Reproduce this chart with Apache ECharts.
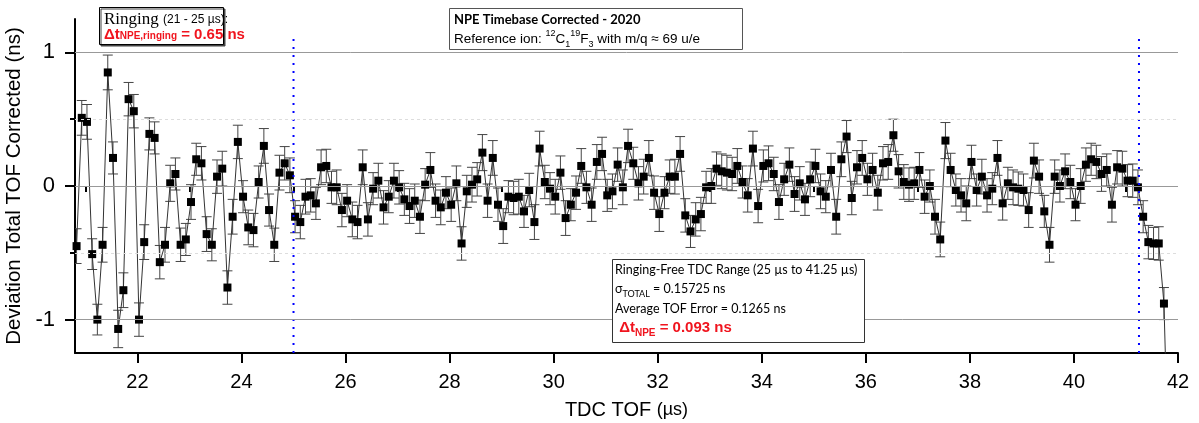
<!DOCTYPE html>
<html>
<head>
<meta charset="utf-8">
<script src="https://cdn.jsdelivr.net/npm/echarts@6/dist/echarts.min.js"></script>
<style>
html, body { margin:0; padding:0; background:#fff; }
#main { width:1199px; height:423px; }
</style>
</head>
<body>
<div id="main"></div>
<script>
// TDC TOF (µs)
var tof = [
    20.83,20.93,21.03,21.13,21.23,21.33,21.43,21.53,21.63,21.73,
    21.83,21.93,22.03,22.13,22.23,22.33,22.43,22.53,22.63,22.73,
    22.83,22.93,23.03,23.13,23.23,23.33,23.43,23.53,23.63,23.73,
    23.83,23.93,24.03,24.13,24.23,24.33,24.43,24.53,24.63,24.73,
    24.83,24.93,25.03,25.13,25.23,25.33,25.43,25.53,25.63,25.73,
    25.83,25.93,26.03,26.13,26.23,26.33,26.43,26.53,26.63,26.73,
    26.83,26.93,27.03,27.13,27.23,27.33,27.43,27.53,27.63,27.73,
    27.83,27.93,28.03,28.13,28.23,28.33,28.43,28.53,28.63,28.73,
    28.83,28.93,29.03,29.13,29.23,29.33,29.43,29.53,29.63,29.73,
    29.83,29.93,30.03,30.13,30.23,30.33,30.43,30.53,30.63,30.73,
    30.83,30.93,31.03,31.13,31.23,31.33,31.43,31.53,31.63,31.73,
    31.83,31.93,32.03,32.13,32.23,32.33,32.43,32.53,32.63,32.73,
    32.83,32.93,33.03,33.13,33.23,33.33,33.43,33.53,33.63,33.73,
    33.83,33.93,34.03,34.13,34.23,34.33,34.43,34.53,34.63,34.73,
    34.83,34.93,35.03,35.13,35.23,35.33,35.43,35.53,35.63,35.73,
    35.83,35.93,36.03,36.13,36.23,36.33,36.43,36.53,36.63,36.73,
    36.83,36.93,37.03,37.13,37.23,37.33,37.43,37.53,37.63,37.73,
    37.83,37.93,38.03,38.13,38.23,38.33,38.43,38.53,38.63,38.73,
    38.83,38.93,39.03,39.13,39.23,39.33,39.43,39.53,39.63,39.73,
    39.83,39.93,40.03,40.13,40.23,40.33,40.43,40.53,40.63,40.73,
    40.83,40.93,41.03,41.13,41.23,41.33,41.43,41.53,41.63,41.73,
    41.83
];
// Deviation Total TOF Corrected (ns)
var deviation = [
    -0.45,0.51,0.48,-0.51,-1.00,-0.44,0.85,0.21,-1.07,-0.78,
    0.65,0.56,-1.00,-0.42,0.39,0.36,-0.57,-0.44,0.02,0.09,
    -0.44,-0.40,-0.12,0.20,0.17,-0.36,-0.44,0.07,0.13,-0.76,
    -0.23,0.33,-0.08,-0.31,-0.33,0.03,0.30,-0.18,-0.44,0.10,
    0.17,0.08,-0.23,-0.27,-0.08,-0.07,-0.13,0.14,0.15,-0.01,
    -0.01,-0.18,-0.11,-0.25,-0.27,0.14,-0.25,-0.02,0.04,-0.16,
    -0.08,0.04,-0.01,-0.10,-0.15,-0.11,-0.23,0.01,0.12,-0.11,
    -0.16,-0.05,-0.14,0.02,-0.43,-0.04,0.01,0.05,0.25,-0.11,
    0.21,-0.14,-0.30,-0.08,-0.09,-0.08,-0.19,-0.03,-0.27,0.28,
    0.03,-0.02,-0.08,0.10,-0.24,-0.14,-0.05,0.15,-0.01,-0.14,
    0.18,0.24,-0.07,-0.04,0.16,-0.01,0.30,0.17,0.02,0.07,
    0.21,-0.05,-0.21,-0.05,0.07,0.07,0.24,-0.22,-0.34,-0.25,
    -0.21,-0.01,0.00,0.13,0.11,0.10,0.09,0.15,0.03,-0.07,
    0.28,-0.15,0.15,0.17,0.09,-0.12,0.05,0.16,-0.06,0.02,
    -0.10,0.05,0.15,-0.04,-0.08,0.12,-0.23,0.20,0.37,-0.09,
    0.14,0.21,0.05,0.12,-0.05,0.17,0.18,0.38,0.11,0.03,
    0.01,0.02,0.12,-0.08,0.00,-0.23,-0.40,0.34,0.12,-0.03,
    -0.07,-0.13,0.18,-0.03,0.07,-0.07,-0.02,0.21,-0.13,0.02,
    -0.01,-0.02,-0.03,-0.18,0.19,0.07,-0.19,-0.44,0.07,0.00,
    0.11,0.03,-0.14,0.00,0.16,0.20,0.18,0.09,0.12,-0.14,
    0.14,0.13,0.04,0.04,-0.01,-0.23,-0.42,-0.43,-0.43,-0.88,
    -2.30
];
// TOF error (ns)
var tofError = [
    0.13,0.13,0.13,0.115,0.115,0.13,0.13,0.12,0.14,0.13,
    0.125,0.125,0.125,0.13,0.12,0.12,0.125,0.13,0.135,0.12,
    0.125,0.12,0.13,0.12,0.125,0.13,0.12,0.125,0.13,0.125,
    0.13,0.125,0.12,0.13,0.125,0.12,0.13,0.12,0.125,0.13,
    0.125,0.13,0.12,0.125,0.13,0.125,0.12,0.13,0.125,0.12,
    0.13,0.125,0.12,0.13,0.125,0.13,0.125,0.12,0.13,0.125,
    0.12,0.13,0.125,0.12,0.13,0.125,0.125,0.12,0.13,0.125,
    0.13,0.12,0.125,0.13,0.125,0.12,0.13,0.125,0.135,0.125,
    0.13,0.125,0.13,0.12,0.125,0.13,0.12,0.125,0.13,0.13,
    0.125,0.12,0.13,0.125,0.13,0.12,0.125,0.13,0.12,0.125,
    0.13,0.125,0.12,0.13,0.125,0.13,0.125,0.12,0.125,0.13,
    0.13,0.125,0.13,0.12,0.125,0.13,0.13,0.125,0.12,0.125,
    0.125,0.12,0.13,0.125,0.13,0.13,0.125,0.13,0.12,0.125,
    0.13,0.125,0.12,0.13,0.125,0.13,0.12,0.125,0.13,0.125,
    0.12,0.13,0.125,0.13,0.12,0.125,0.13,0.13,0.12,0.125,
    0.125,0.13,0.12,0.125,0.13,0.125,0.13,0.12,0.125,0.13,
    0.125,0.12,0.13,0.125,0.12,0.13,0.13,0.135,0.125,0.12,
    0.125,0.13,0.125,0.12,0.13,0.125,0.12,0.13,0.125,0.12,
    0.13,0.125,0.12,0.13,0.13,0.125,0.12,0.13,0.125,0.12,
    0.13,0.125,0.12,0.13,0.125,0.12,0.125,0.13,0.12,0.13,
    0.125,0.13,0.12,0.125,0.13,0.12,0.125,0.12,0.125,0.12,
    0.13
];
// ringing-free range borders (µs) and their drawn height (ns)
var rangeBorders = [25, 41.25];
var borderSpan = [-1.25, 1.11];
// axis ticks
var xMajorTicks = [22, 24, 26, 28, 30, 32, 34, 36, 38, 40, 42];
var xMinorTicks = [21, 23, 25, 27, 29, 31, 33, 35, 37, 39, 41];
var yMajorTicks = [-1, 0, 1];
var yMinorTicks = [-0.5, 0.5];

var points = [];
for (var i = 0; i < tof.length; i++) {
    points.push([tof[i], deviation[i], tofError[i]]);
}

var chart = echarts.init(document.getElementById('main'), null, {renderer: 'canvas'});

function errorBar(params, api) {
    var x = api.value(0), y = api.value(1), e = api.value(2);
    var hi = api.coord([x, y + e]);
    var lo = api.coord([x, y - e]);
    var w = 5;
    var st = {stroke: '#444', lineWidth: 1};
    return {
        type: 'group',
        children: [
            {type: 'line', shape: {x1: hi[0], y1: hi[1], x2: lo[0], y2: lo[1]}, style: st},
            {type: 'line', shape: {x1: hi[0] - w, y1: hi[1], x2: hi[0] + w, y2: hi[1]}, style: st},
            {type: 'line', shape: {x1: lo[0] - w, y1: lo[1], x2: lo[0] + w, y2: lo[1]}, style: st}
        ]
    };
}

var ax = 'Liberation Sans';
var cal = 'Lato';

var option = {
    animation: false,
    backgroundColor: '#fff',
    grid: {left: 75, right: 21, top: 19, bottom: 70, outerBoundsMode: 'none'},
    xAxis: [{
        type: 'value', min: 20.8, max: 42,
        name: '{a|TDC TOF }{b|(µs)}', nameLocation: 'middle', nameGap: 47,
        nameTextStyle: {rich: {
            a: {fontFamily: ax, fontSize: 20, color: '#000'},
            b: {fontFamily: ax, fontSize: 18, color: '#000'}
        }},
        axisLine: {show: true, onZero: false, lineStyle: {color: '#000', width: 2}},
        axisTick: {show: true, customValues: xMajorTicks, length: 10, lineStyle: {color: '#000', width: 2}},
        axisLabel: {customValues: xMajorTicks, fontFamily: ax, fontSize: 20, color: '#000', margin: 19},
        splitLine: {show: false}
    }, {
        type: 'value', min: 20.8, max: 42, position: 'bottom',
        axisLine: {show: false},
        axisTick: {show: true, customValues: xMinorTicks, length: 6, lineStyle: {color: '#000', width: 2}},
        axisLabel: {show: false},
        splitLine: {show: false}
    }],
    yAxis: [{
        type: 'value', min: -1.25, max: 1.25,
        name: 'Deviation Total TOF Corrected (ns)', nameLocation: 'middle', nameGap: 37,
        nameTextStyle: {fontFamily: ax, fontSize: 20.5, color: '#000'},
        axisLine: {show: true, onZero: false, lineStyle: {color: '#000', width: 2}},
        axisTick: {show: true, customValues: yMajorTicks, length: 10, lineStyle: {color: '#000', width: 2}},
        axisLabel: {customValues: yMajorTicks, fontFamily: ax, fontSize: 22, color: '#000', margin: 20},
        splitLine: {show: false}
    }, {
        type: 'value', min: -1.25, max: 1.25, position: 'left',
        axisLine: {show: false},
        axisTick: {show: true, customValues: yMinorTicks, length: 5, lineStyle: {color: '#000', width: 2}},
        axisLabel: {show: false},
        splitLine: {show: false}
    }],
    series: [{
        type: 'custom',
        name: 'error',
        renderItem: errorBar,
        data: points,
        clip: true,
        z: 2,
        markLine: {
            silent: true, symbol: 'none', label: {show: false},
            data: [
                {yAxis: 1, lineStyle: {color: '#999', width: 1, type: 'solid'}},
                {yAxis: 0, lineStyle: {color: '#999', width: 1, type: 'solid'}},
                {yAxis: -1, lineStyle: {color: '#999', width: 1, type: 'solid'}},
                {yAxis: 0.5, lineStyle: {color: '#ddd', width: 1, type: [3, 3]}},
                {yAxis: -0.5, lineStyle: {color: '#ddd', width: 1, type: [3, 3]}}
            ]
        }
    }, {
        type: 'line',
        name: 'deviation',
        data: points,
        symbol: 'rect',
        symbolSize: 8,
        showAllSymbol: true,
        itemStyle: {color: '#000'},
        lineStyle: {color: '#333', width: 1},
        clip: true,
        z: 3
    }, {
        type: 'line',
        data: [[rangeBorders[0], borderSpan[0]], [rangeBorders[0], borderSpan[1]]],
        symbol: 'none',
        lineStyle: {color: '#0000ff', width: 2, type: [2, 6]},
        z: 4
    }, {
        type: 'line',
        data: [[rangeBorders[1], borderSpan[0]], [rangeBorders[1], borderSpan[1]]],
        symbol: 'none',
        lineStyle: {color: '#0000ff', width: 2, type: [2, 6]},
        z: 4
    }],
    graphic: [
        // ringing box
        {type: 'rect', left: 99, top: 7, z: 10,
            shape: {width: 124, height: 37},
            style: {fill: '#fff', stroke: '#000', lineWidth: 1, shadowColor: '#444', shadowOffsetX: 1.5, shadowOffsetY: 1.5}},
        {type: 'text', left: 104, top: 11, z: 11,
            style: {
                text: '{r|Ringing }{s|(21 - 25 µs):}\n{d|Δt}{ds|NPE,ringing}{d| = 0.65 ns}',
                rich: {
                    r: {fontFamily: 'Liberation Serif', fontSize: 17, fill: '#000', lineHeight: 17},
                    s: {fontFamily: ax, fontSize: 12, fill: '#000', lineHeight: 17},
                    d: {fontFamily: ax, fontSize: 15, fontWeight: 'bold', fill: '#f0141e', lineHeight: 13},
                    ds: {fontFamily: ax, fontSize: 10, fontWeight: 'bold', fill: '#f0141e', lineHeight: 9, verticalAlign: 'bottom'}
                }
            }},
        // title box
        {type: 'rect', left: 449, top: 8, z: 10,
            shape: {width: 293, height: 41},
            style: {fill: '#fff', stroke: '#555', lineWidth: 1}},
        {type: 'text', left: 454, top: 13, z: 11,
            style: {
                text: '{t|NPE Timebase Corrected - 2020}\n{n|Reference ion: }{sp|12}{n|C}{sb|1}{sp|19}{n|F}{sb|3}{n| with m/q ≈ 69 u/e}',
                rich: {
                    t: {fontFamily: cal, fontSize: 13, fontWeight: 'bold', fill: '#000', lineHeight: 19},
                    n: {fontFamily: ax, fontSize: 13.5, fill: '#000', lineHeight: 20},
                    sp: {fontFamily: ax, fontSize: 9, fill: '#000', lineHeight: 13, verticalAlign: 'top'},
                    sb: {fontFamily: ax, fontSize: 9, fill: '#000', lineHeight: 11, verticalAlign: 'bottom'}
                }
            }},
        // ringing-free box
        {type: 'rect', left: 612, top: 259, z: 10,
            shape: {width: 252, height: 83},
            style: {fill: '#fff', stroke: '#333', lineWidth: 1}},
        {type: 'text', left: 615, top: 263, z: 11,
            style: {
                text: '{c|Ringing-Free TDC Range (25 µs to 41.25 µs)}\n{c|σ}{cs|TOTAL}{c| = 0.15725 ns}\n{c|Average TOF Error = 0.1265 ns}\n{d| Δt}{ds|NPE}{d| = 0.093 ns}',
                rich: {
                    c: {fontFamily: cal, fontSize: 12.5, fill: '#000', lineHeight: 19.5},
                    cs: {fontFamily: cal, fontSize: 9, fill: '#000', lineHeight: 14, verticalAlign: 'bottom'},
                    d: {fontFamily: ax, fontSize: 15, fontWeight: 'bold', fill: '#f0141e', lineHeight: 20},
                    ds: {fontFamily: ax, fontSize: 10, fontWeight: 'bold', fill: '#f0141e', lineHeight: 15, verticalAlign: 'bottom'}
                }
            }}
    ]
};
chart.setOption(option);
</script>
</body>
</html>
